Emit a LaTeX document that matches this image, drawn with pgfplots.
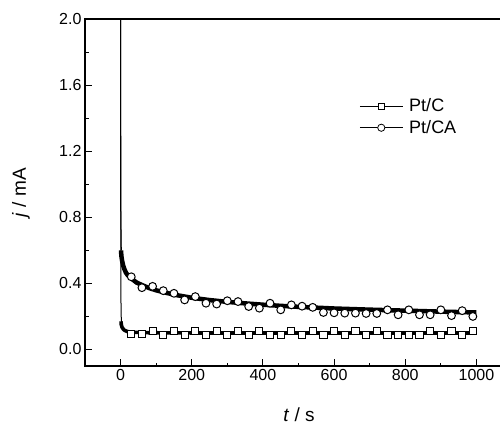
\documentclass[border=0pt]{standalone}
\usepackage{pgfplots}
\pgfplotsset{compat=1.18}
\usepackage{fontspec}
\setmainfont{Liberation Sans}
\begin{document}
\begin{tikzpicture}
\useasboundingbox (0,0) rectangle (500pt,424pt);
\begin{axis}[
  at={(85pt,58pt)}, anchor=south west,
  scale only axis, width=427pt, height=347pt,
  xmin=-100, xmax=1100, ymin=-0.1, ymax=2.0,
  xtick={0,200,400,600,800,1000},
  ytick={0,0.4,0.8,1.2,1.6,2.0},
  minor x tick num=1, minor y tick num=1,
  xtick pos=bottom, ytick pos=left,
  tick align=inside,
  major tick length=7pt, minor tick length=3.5pt,
  axis line style={line width=1.3pt},
  every tick/.style={black, line width=1pt},
  /pgf/number format/assume math mode=true,
  xticklabel style={font=\fontsize{16}{19}\selectfont, /pgf/number format/set thousands separator={}},
  yticklabel style={font=\fontsize{16}{19}\selectfont, /pgf/number format/.cd, fixed, fixed zerofill, precision=1},
  xlabel={\textit{t} / s},
  ylabel={\textit{j} / mA},
  xlabel style={font=\fontsize{19}{22}\selectfont, at={(axis description cs:0.501,-0.14)}, anchor=center},
  ylabel style={font=\fontsize{19}{22}\selectfont, at={(axis description cs:-0.15,0.5)}, anchor=center},
  legend style={font=\fontsize{18}{21}\selectfont, draw=none, fill=none, at={(0.642,0.776)}, anchor=north west, inner sep=0pt, row sep=3pt, nodes={inner sep=2pt},
    /tikz/every odd column/.append style={column sep=4pt}},
  legend cell align=left,
  clip=true,
]
% Pt/C current (thin spike + thick band)
\addplot[black, line width=1pt, forget plot] coordinates {(0,2.5) (0.3,1.0) (1,0.3) (2,0.18) (4,0.15)};
\addplot[black, line width=3.6pt, line join=round, forget plot] coordinates {
(1.2,0.17) (2,0.15) (4,0.135) (7,0.125) (10,0.118) (15,0.112) (20,0.108) (30,0.105) (60,0.102) (100,0.101) (200,0.1) (300,0.1) (400,0.1) (500,0.1) (600,0.1) (700,0.1) (800,0.1) (900,0.1) (1000,0.1)};
% Pt/CA current
\addplot[black, line width=1pt, forget plot] coordinates {(0,2.5) (0.5,1.2) (1,0.75) (2,0.6)};
\addplot[black, line width=4.5pt, line join=round, forget plot] coordinates {
(1.5,0.6) (2,0.57) (4,0.54) (7,0.51) (10,0.49) (15,0.465) (20,0.45) (30,0.43) (45,0.405) (60,0.39) (80,0.372) (100,0.358) (130,0.342) (160,0.328) (200,0.313) (250,0.299) (300,0.288) (350,0.279) (400,0.271) (450,0.264) (500,0.258) (600,0.248) (700,0.241) (800,0.235) (900,0.229) (1000,0.224)};
% markers
\addplot[only marks, mark=square*, mark size=3.6pt, mark options={fill=white, draw=black, line width=1pt},
  legend image code/.code={\draw[black, line width=0.9pt] (0pt,0pt) -- (43pt,0pt);
    \draw[mark=square*, mark size=3.2pt, mark options={fill=white, draw=black, line width=0.8pt}] plot coordinates {(21.5pt,0pt)};}]
coordinates {
(30,0.095) (60,0.095) (90,0.113) (120,0.088) (150,0.113) (180,0.088) (210,0.11) (240,0.09) (270,0.11) (300,0.09) (330,0.11) (360,0.09) (390,0.113) (420,0.089) (450,0.09) (480,0.113) (510,0.089) (540,0.111) (570,0.089) (600,0.11) (630,0.089) (660,0.113) (690,0.089) (720,0.113) (750,0.089) (780,0.09) (810,0.089) (840,0.089) (870,0.111) (900,0.09) (930,0.111) (960,0.09) (990,0.111)};
\addlegendentry{Pt/C}
\addplot[only marks, mark=*, mark size=3.9pt, mark options={fill=white, draw=black, line width=1pt},
  legend image code/.code={\draw[black, line width=0.9pt] (0pt,0pt) -- (43pt,0pt);
    \draw[mark=*, mark size=3.6pt, mark options={fill=white, draw=black, line width=0.8pt}] plot coordinates {(21.5pt,0pt)};}]
coordinates {
(30,0.44) (60,0.374) (90,0.382) (120,0.356) (150,0.34) (180,0.30) (210,0.32) (240,0.28) (270,0.275) (300,0.295) (330,0.29) (360,0.26) (390,0.25) (420,0.28) (450,0.24) (480,0.27) (510,0.262) (540,0.255) (570,0.224) (600,0.222) (630,0.22) (660,0.22) (690,0.218) (720,0.218) (750,0.24) (780,0.21) (810,0.24) (840,0.21) (870,0.21) (900,0.24) (930,0.205) (960,0.235) (990,0.2)};
\addlegendentry{Pt/CA}
\end{axis}
\end{tikzpicture}
\end{document}
